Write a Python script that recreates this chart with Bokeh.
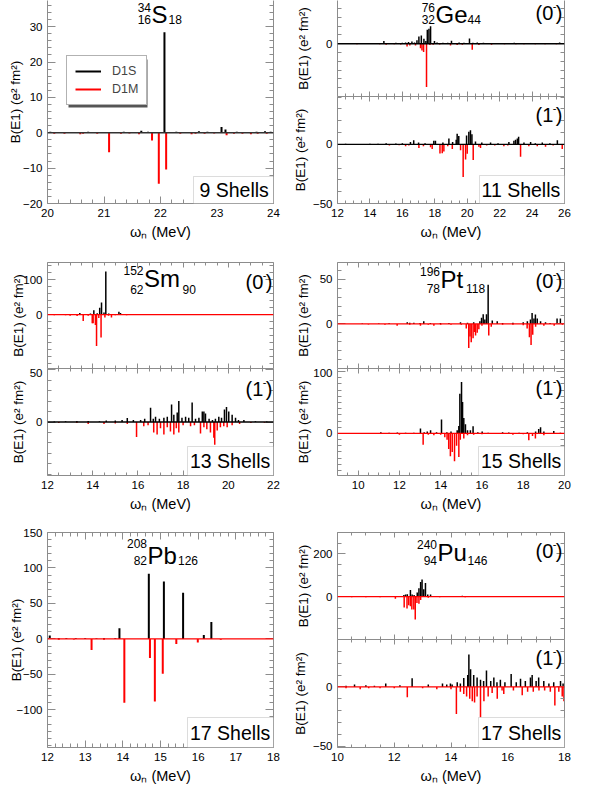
import numpy as np
from bokeh.plotting import figure
from bokeh.models import (ColumnDataSource, LinearAxis, FixedTicker, Range1d, Label,
                          Span, Legend, LegendItem, BoxAnnotation)
from bokeh.layouts import column, row
from bokeh.embed import file_html
from bokeh.resources import INLINE

# ------------------------------------------------------------------ data
# energies (MeV) and B(E1) values (e^2 fm^2); D1M is drawn downwards
S34_D1S_E = [20.05, 20.45, 20.72, 21.18, 21.35, 21.52, 21.66, 21.78, 22.07, 22.28, 22.52,
             22.68, 22.83, 23.08, 23.15, 23.35, 23.52, 23.70, 23.85, 23.95]
S34_D1S_B = [0.3, 0.2, 0.3, 0.2, 0.3, 0.2, 0.6, 0.3, 28.4, 0.3, 0.2,
             0.4, 0.3, 1.6, 0.9, 0.3, 0.2, 0.3, 0.4, 0.3]
S34_D1M_E = [20.12, 20.30, 20.58, 20.63, 20.88, 21.09, 21.30, 21.45, 21.62, 21.85, 21.97,
             22.10, 22.35, 22.55, 22.62, 22.78, 22.95, 23.17, 23.30, 23.45, 23.60, 23.72, 23.88]
S34_D1M_B = [0.3, 0.3, 0.4, 0.3, 0.3, 5.5, 0.3, 0.2, 0.4, 2.2, 14.4,
             10.4, 0.3, 0.4, 0.3, 0.3, 0.2, 0.7, 0.3, 0.3, 0.4, 0.3, 0.3]

GE0_D1S_E = [12.4, 12.9, 13.5, 14.2, 14.86, 15.3, 15.6, 16.0, 16.2, 16.38, 16.59, 16.75, 16.90,
             17.02, 17.17, 17.33, 17.45, 17.54, 17.64, 17.74, 17.98, 18.14, 18.5, 18.8, 19.03,
             19.5, 19.8, 20.14, 20.35, 20.62, 21.0, 21.6, 22.2, 22.9, 23.6, 24.5, 25.0, 25.7]
GE0_D1S_B = [0.5, 0.4, 0.5, 0.8, 3.0, 0.8, 1.2, 1.0, 1.5, 2.0, 2.5, 1.5, 4.0,
             8.3, 9.4, 5.7, 3.0, 16.0, 17.0, 20.0, 3.0, 1.5, 1.0, 1.2, 3.5,
             1.5, 1.0, 6.0, 1.0, 1.5, 1.0, 0.6, 0.8, 1.0, 0.6, 0.8, 0.5, 1.5]
GE0_D1M_E = [12.6, 13.2, 13.9, 14.6, 15.0, 15.5, 15.9, 16.29, 16.46, 16.81, 17.12, 17.21, 17.31,
             17.49, 17.7, 17.9, 18.3, 18.97, 19.38, 19.7, 20.31, 20.72, 21.5, 22.3, 23.0, 23.5,
             24.2, 24.8, 25.5]
GE0_D1M_B = [0.4, 0.5, 0.4, 0.6, 1.0, 0.5, 0.8, 3.0, 2.0, 2.0, 5.0, 7.6, 9.5,
             49.3, 1.5, 1.0, 0.8, 2.0, 1.5, 1.0, 6.8, 1.5, 1.0, 0.7, 0.6, 0.5,
             0.6, 0.6, 0.5]

GE1_D1S_E = [12.5, 13.2, 14.0, 14.5, 15.0, 15.6, 16.0, 16.50, 16.70, 17.0, 17.4, 17.94, 18.04,
             18.5, 18.87, 19.1, 19.32, 19.38, 19.48, 19.96, 20.10, 20.2, 20.29, 20.51, 20.9,
             21.44, 21.9, 22.57, 22.88, 22.98, 23.09, 23.17, 23.5, 23.91, 24.2, 24.63, 25.1, 25.56]
GE1_D1S_B = [0.5, 0.4, 0.5, 0.6, 1.0, 0.8, 1.0, 2.0, 3.6, 1.5, 1.0, 3.0, 3.0,
             1.5, 5.0, 2.0, 4.0, 9.0, 7.0, 7.6, 10.7, 11.9, 8.5, 2.5, 1.5,
             1.5, 1.0, 2.0, 3.0, 4.0, 5.0, 6.5, 1.5, 2.0, 1.0, 1.5, 1.0, 3.5]
GE1_D1M_E = [12.8, 13.7, 14.5, 15.2, 15.8, 16.20, 16.4, 17.02, 17.3, 17.74, 17.84, 18.32, 18.46,
             18.56, 18.8, 19.08, 19.59, 19.75, 19.90, 20.0, 20.37, 20.72, 20.82, 21.2, 21.7,
             22.26, 22.5, 23.29, 23.8, 24.32, 24.83, 25.3, 25.86]
GE1_D1M_B = [0.4, 0.4, 0.5, 1.0, 0.8, 1.5, 1.0, 3.0, 1.5, 2.5, 4.0, 7.7, 7.5,
             6.0, 1.5, 4.0, 5.0, 27.5, 12.7, 8.0, 13.3, 2.0, 3.0, 1.0, 1.0,
             1.5, 1.0, 10.5, 1.5, 1.5, 2.0, 1.0, 4.0]

SM0_D1S_E = [12.3, 12.7, 13.16, 13.43, 13.7, 13.9, 14.05, 14.20, 14.31, 14.39, 14.50, 14.58,
             14.71, 14.86, 15.0, 15.16, 15.23, 15.4, 15.7, 16.2, 17.0, 18.0, 19.0, 20.0, 21.0]
SM0_D1S_B = [1.0, 1.5, 2.0, 5.0, 2.0, 3.0, 12.5, 4.0, 20.0, 35.0, 6.0, 124.0,
             3.0, 2.0, 1.5, 8.6, 5.0, 1.5, 1.0, 0.8, 0.8, 0.6, 0.6, 0.6, 0.5]
SM0_D1M_E = [12.3, 12.8, 13.0, 13.31, 13.58, 13.8, 13.98, 14.02, 14.12, 14.17, 14.27, 14.37,
             14.54, 14.70, 14.83, 15.0, 15.5, 16.0, 17.0, 18.2, 19.5, 20.5, 21.5]
SM0_D1M_B = [2.0, 2.0, 3.0, 4.0, 18.0, 3.0, 25.0, 25.0, 30.0, 90.0, 10.0, 66.0,
             8.0, 3.0, 8.0, 2.0, 2.0, 1.0, 1.0, 0.8, 0.8, 0.6, 0.6]

SM1_D1S_E = [12.3, 12.8, 13.3, 13.8, 14.3, 14.6, 15.0, 15.3, 15.53, 15.8, 16.12, 16.3, 16.56,
             16.68, 16.78, 16.95, 17.15, 17.30, 17.49, 17.59, 17.74, 17.81, 17.95, 18.11, 18.25,
             18.40, 18.55, 18.70, 18.85, 18.92, 18.99, 19.15, 19.30, 19.43, 19.58, 19.70, 19.83,
             19.92, 20.02, 20.17, 20.32, 20.45, 20.69, 21.2, 21.7]
SM1_D1S_B = [0.5, 0.8, 1.0, 1.0, 0.8, 1.5, 1.5, 2.0, 3.8, 2.0, 2.0, 3.0, 13.7,
             3.0, 5.0, 3.0, 4.0, 5.0, 16.6, 7.0, 9.0, 20.0, 4.0, 5.0, 4.0,
             18.5, 3.0, 4.0, 10.0, 10.0, 8.0, 3.0, 2.0, 3.0, 5.0, 4.0, 12.0,
             14.3, 10.0, 7.0, 4.0, 2.0, 2.0, 0.8, 0.5]
SM1_D1M_E = [12.5, 13.3, 13.8, 14.5, 15.0, 15.53, 15.94, 16.26, 16.45, 16.70, 16.85, 17.0,
             17.15, 17.30, 17.44, 17.59, 17.70, 17.81, 18.0, 18.33, 18.5, 18.77, 18.92, 19.05,
             19.21, 19.36, 19.40, 19.51, 19.65, 19.80, 19.95, 20.17, 20.5, 21.0, 21.6]
SM1_D1M_B = [1.0, 1.0, 2.0, 2.0, 1.5, 2.0, 14.3, 4.0, 3.0, 10.0, 12.0, 6.0,
             12.0, 5.0, 9.0, 12.0, 6.0, 10.0, 3.0, 4.0, 3.0, 11.0, 5.0, 7.0,
             10.0, 15.0, 21.6, 8.0, 5.0, 4.0, 5.0, 3.0, 2.0, 1.0, 0.8]

PT0_D1S_E = [10.2, 11.0, 11.5, 12.38, 12.5, 12.70, 13.0, 13.18, 13.5, 13.99, 14.4, 14.96, 15.3,
             15.6, 15.90, 15.98, 16.06, 16.14, 16.22, 16.30, 16.50, 16.74, 17.0, 17.5, 18.0,
             18.2, 18.35, 18.43, 18.52, 18.59, 18.68, 18.84, 19.08, 19.3, 19.64, 19.80]
PT0_D1S_B = [0.5, 0.5, 0.8, 2.0, 1.5, 1.5, 1.0, 3.0, 1.0, 1.0, 1.0, 2.0, 1.5,
             2.0, 3.0, 7.0, 11.0, 5.0, 11.0, 44.0, 4.0, 3.0, 1.0, 1.5, 2.0,
             3.0, 5.0, 12.3, 6.0, 10.5, 6.0, 3.0, 2.0, 1.0, 6.0, 6.0]
PT0_D1M_E = [10.5, 11.3, 11.89, 12.5, 13.02, 13.4, 13.67, 14.0, 14.5, 15.0, 15.24, 15.36, 15.42,
             15.48, 15.57, 15.63, 15.69, 15.77, 15.85, 16.0, 16.33, 16.45, 17.0, 17.5, 18.0,
             18.19, 18.30, 18.38, 18.46, 18.6, 19.0, 19.5, 19.9]
PT0_D1M_B = [0.5, 1.0, 2.0, 1.0, 2.0, 1.0, 2.0, 1.0, 1.0, 1.0, 5.0, 26.9, 14.0,
             20.5, 16.0, 9.0, 13.0, 10.0, 6.0, 2.0, 13.0, 3.0, 1.0, 1.0, 1.5,
             5.0, 15.0, 23.5, 12.0, 3.0, 2.0, 2.0, 1.0]

PT1_D1S_E = [10.0, 10.5, 11.1, 11.5, 11.9, 12.3, 12.7, 13.02, 13.2, 13.35, 13.51, 13.8, 14.04,
             14.3, 14.5, 14.80, 14.88, 14.93, 15.01, 15.06, 15.12, 15.20, 15.30, 15.44, 15.57,
             15.8, 16.01, 16.3, 17.0, 17.3, 17.8, 18.2, 18.6, 18.75, 18.84, 19.0, 19.48, 19.8]
PT1_D1S_B = [0.5, 0.5, 2.0, 1.0, 1.5, 1.0, 1.0, 8.0, 2.0, 3.0, 5.0, 2.0, 22.7,
             2.0, 3.0, 5.0, 12.0, 64.0, 83.0, 51.0, 25.0, 15.0, 5.0, 5.0, 11.8,
             2.0, 3.0, 1.0, 2.0, 1.5, 1.0, 2.0, 3.0, 7.0, 10.0, 3.0, 4.0, 1.0]
PT1_D1M_E = [10.3, 10.8, 11.4, 12.0, 12.6, 13.15, 13.4, 13.67, 14.0, 14.20, 14.31, 14.39, 14.47,
             14.56, 14.67, 14.77, 14.88, 14.95, 15.12, 15.3, 15.6, 16.0, 16.5, 17.0, 17.5,
             18.0, 18.27, 18.45, 18.59, 19.0, 19.5]
PT1_D1M_B = [0.5, 0.5, 1.0, 2.0, 1.0, 18.4, 2.0, 3.0, 2.0, 6.0, 10.0, 25.0, 36.8,
             30.0, 45.0, 20.0, 38.0, 10.0, 8.0, 3.0, 2.0, 1.5, 1.0, 1.0, 2.0,
             1.5, 11.0, 4.0, 8.0, 3.0, 1.0]

PB_D1S_E = [12.06, 12.3, 12.5, 12.75, 13.0, 13.3, 13.5, 13.8, 13.91, 14.69, 15.09, 15.60, 16.15, 16.35]
PB_D1S_B = [5.0, 1.0, 1.0, 0.8, 1.0, 0.5, 0.8, 1.0, 15.0, 92.0, 81.0, 65.0, 5.7, 24.0]
PB_D1M_E = [12.3, 12.7, 13.17, 13.5, 14.04, 14.72, 14.85, 15.06, 15.42, 15.99, 16.6]
PB_D1M_B = [1.0, 0.8, 15.6, 1.0, 90.0, 27.0, 88.0, 49.0, 7.0, 5.0, 1.0]

PU0_D1S_E = [10.3, 10.7, 11.2, 11.5, 11.9, 12.34, 12.40, 12.46, 12.57, 12.63, 12.70, 12.81,
             12.87, 12.93, 12.98, 13.04, 13.10, 13.18, 13.28, 13.5, 14.4, 15.0, 16.0, 17.0]
PU0_D1S_B = [1.0, 3.0, 1.0, 3.0, 2.0, 8.0, 10.0, 12.0, 31.0, 10.0, 8.0, 20.0,
             40.0, 69.0, 80.0, 35.0, 64.0, 10.0, 10.0, 3.0, 5.0, 1.0, 1.0, 1.0]
PU0_D1M_E = [10.5, 11.0, 11.5, 12.04, 12.35, 12.45, 12.51, 12.57, 12.62, 12.69, 12.74, 12.80,
             12.87, 12.93, 13.2, 13.6, 14.5]
PU0_D1M_B = [2.0, 2.0, 3.0, 10.0, 50.0, 55.0, 40.0, 45.0, 60.0, 60.0, 106.0, 30.0,
             33.0, 15.0, 5.0, 2.0, 2.0]

PU1_D1S_E = [10.3, 10.6, 11.0, 11.3, 11.7, 12.2, 12.63, 13.2, 13.7, 13.85, 13.98, 14.04, 14.22,
             14.33, 14.45, 14.59, 14.63, 14.69, 14.80, 14.92, 15.04, 15.15, 15.25, 15.40, 15.51,
             15.62, 15.74, 15.90, 16.12, 16.30, 16.45, 16.62, 16.80, 16.86, 17.00, 17.09, 17.27,
             17.45, 17.62, 17.86, 17.95]
PU1_D1S_B = [1.0, 2.0, 1.5, 1.0, 3.0, 1.5, 7.3, 2.0, 3.0, 2.0, 3.0, 2.0, 4.0,
             3.0, 7.6, 10.0, 27.3, 15.0, 10.0, 8.0, 6.0, 5.0, 13.8, 5.0, 8.0,
             4.0, 6.0, 4.0, 11.0, 4.0, 7.0, 5.0, 8.0, 10.0, 5.0, 8.0, 5.0,
             3.0, 4.0, 5.0, 3.0]
PU1_D1M_E = [10.3, 10.8, 11.1, 11.5, 12.0, 12.46, 13.0, 13.5, 14.0, 14.19, 14.33, 14.45, 14.55,
             14.66, 14.75, 14.83, 14.92, 15.04, 15.16, 15.31, 15.45, 15.63, 15.80, 15.86, 16.2,
             16.51, 16.7, 16.9, 17.1, 17.3, 17.5, 17.66, 17.80, 17.92, 17.98]
PU1_D1M_B = [1.0, 2.0, 1.0, 1.0, 1.0, 8.7, 1.0, 2.0, 2.0, 22.7, 4.0, 6.0, 8.0,
             10.0, 12.0, 13.0, 8.0, 25.5, 12.0, 8.0, 5.0, 10.0, 3.0, 6.0, 3.0,
             7.0, 4.0, 4.0, 3.0, 3.0, 4.0, 15.7, 4.0, 8.0, 12.0]

# tick labels
X_S34 = [20, 21, 22, 23, 24]
X_GE = [12, 14, 16, 18, 20, 22, 24, 26]
X_SM = [12, 14, 16, 18, 20, 22]
X_PT = [10, 12, 14, 16, 18, 20]
X_PB = [12, 13, 14, 15, 16, 17, 18]
X_PU = [10, 12, 14, 16, 18]

# ------------------------------------------------------------------ style
FONT = "Liberation Sans"
AXC = "#8c8c8c"
RED = "#ff0000"
BLK = "#000000"
LEFT_W, RIGHT_W = 287, 316
LEFT_BL, RIGHT_BL = 47, 50
LEFT_FW, RIGHT_FW = 226, 227
YLAB = "B(E1) (e\u00b2 fm\u00b2)"
XLAB = "\u03c9\u2099 (MeV)"
TICK_PX = 11.5
DIGIT_W = 0.556 * TICK_PX
MINUS_W = 0.333 * TICK_PX
FW = {}


def minor_ticks(lo, hi, step, majors):
    start = np.ceil(lo / step - 1e-9) * step
    out = []
    for v in np.arange(start, hi + 1e-9, step):
        if all(abs(v - m) > 1e-6 for m in majors):
            out.append(round(float(v), 4))
    return out


def label_width(ticks):
    return max(len(str(abs(t))) * DIGIT_W + (MINUS_W if t < 0 else 0) for t in ticks)


def add_axis(p, side, rng, majors, step, labeled, tin, tmin):
    ax = LinearAxis(ticker=FixedTicker(ticks=majors,
                                       minor_ticks=minor_ticks(rng[0], rng[1], step, majors)))
    ax.axis_line_color = AXC
    ax.major_tick_line_color = AXC
    ax.minor_tick_line_color = AXC
    ax.major_tick_in = tin
    ax.major_tick_out = 0
    ax.minor_tick_in = tmin
    ax.minor_tick_out = 0
    if labeled:
        ax.major_label_text_font = FONT
        ax.major_label_text_font_size = f"{TICK_PX}px"
        ax.major_label_text_color = "black"
        ax.major_label_standoff = 5
    else:
        ax.major_label_text_font_size = "0px"
        ax.major_label_text_color = None
        ax.major_label_text_alpha = 0
        ax.major_label_standoff = 0
    p.add_layout(ax, side)
    return ax


def make_panel(col, h, bt, bb, xr, yr, xmaj, xstep, ymaj, ystep, top=True, xlabels=False, xtick=(5, 3)):
    if col == "L":
        w, bl, fw, target, corr = LEFT_W, LEFT_BL, LEFT_FW, 34.0, -8
    else:
        w, bl, fw, target, corr = RIGHT_W, RIGHT_BL, RIGHT_FW, 33.0, -2
    p = figure(width=w, height=h, x_range=Range1d(*xr), y_range=Range1d(*yr),
               x_axis_type=None, y_axis_type=None, toolbar_location=None,
               output_backend="svg", min_border_left=bl, min_border_right=w - bl - fw,
               min_border_top=bt, min_border_bottom=bb)
    p.outline_line_color = None
    p.background_fill_color = "white"
    p.border_fill_color = "white"
    ly = add_axis(p, "left", yr, ymaj, ystep, True, 8, 4)
    ly.axis_label = YLAB
    ly.axis_label_text_font = FONT
    ly.axis_label_text_font_size = "13.5px"
    ly.axis_label_text_font_style = "normal"
    ly.axis_label_text_color = "black"
    ly.axis_label_standoff = int(round(target - 5 - 7.5 - label_width(ymaj))) + corr
    add_axis(p, "right", yr, ymaj, ystep, False, 8, 4)
    lx = add_axis(p, "below", xr, xmaj, xstep, xlabels, *xtick)
    if xlabels:
        lx.axis_label = XLAB
        lx.axis_label_text_font = FONT
        lx.axis_label_text_font_size = "14.5px"
        lx.axis_label_text_font_style = "normal"
        lx.axis_label_text_color = "black"
        lx.axis_label_standoff = 4
    if top:
        add_axis(p, "above", xr, xmaj, xstep, False, *xtick)
    FW[p.id] = fw
    return p


def bars(p, E, B, color, sign, lw):
    src = ColumnDataSource(dict(x=E, y=[sign * b for b in B]))
    return p.segment(x0="x", y0=0, x1="x", y1="y", source=src, line_color=color, line_width=lw)


def base(p, color):
    p.add_layout(Span(location=0, dimension="width", line_color=color, line_width=1.3))


def txt(p, FL, FB, x, yc, text, size, align="left"):
    # x, yc: page position (left/right edge, vertical centre of the capitals)
    p.add_layout(Label(x=x - FL, y=FB - yc, x_units="screen", y_units="screen", text=text,
                       text_font=FONT, text_font_size=f"{size}px", text_align=align,
                       text_baseline="middle", text_color="black"))


def nucleus(p, FL, FB, x, yc, sym, mass, z, n, ysup, ysub, xpost):
    txt(p, FL, FB, x, yc, sym, 24)
    txt(p, FL, FB, x - 0.5, ysup, mass, 12, align="right")
    txt(p, FL, FB, x - 0.5, ysub, z, 12, align="right")
    txt(p, FL, FB, xpost, ysub, n, 12)


def shells(p, FL, FB, x0, y0, xt, text):
    fw = FW[p.id]
    p.add_layout(BoxAnnotation(left=x0 - FL, right=fw, bottom=0, top=FB - y0,
                               left_units="screen", right_units="screen",
                               top_units="screen", bottom_units="screen",
                               fill_color="white", fill_alpha=1.0,
                               line_color=AXC, line_width=1))
    txt(p, FL, FB, xt, (y0 + FB) / 2.0, text, 19.5)


def parity(p, FL, FB, xl, yc, digit):
    txt(p, FL, FB, xl, yc, "(" + digit, 20)
    txt(p, FL, FB, xl + 17.3, yc - 7, "-", 11)
    txt(p, FL, FB, xl + 20.3, yc, ")", 20)


# ------------------------------------------------------------------ 34S
pS = make_panel("L", 245, 0, 42, (20, 24), (-20, 37.4), X_S34, 0.2,
                [-20, -10, 0, 10, 20, 30], 2, top=False, xlabels=True, xtick=(7, 4))
base(pS, "#333333")
rS1 = bars(pS, S34_D1S_E, S34_D1S_B, BLK, 1, 2)
rS2 = bars(pS, S34_D1M_E, S34_D1M_B, RED, -1, 2)
nucleus(pS, 47, 203, 151, 13.5, "S", "34", "16", "18", 7, 18.5, 168)
shells(pS, 47, 203, 193, 176, 199, "9 Shells")
pS.add_layout(BoxAnnotation(left=21, right=100, bottom=96, top=144,
                            left_units="screen", right_units="screen",
                            top_units="screen", bottom_units="screen",
                            fill_color="#555555", fill_alpha=1.0, line_color=None))
leg = Legend(items=[LegendItem(label="D1S", renderers=[rS1]),
                    LegendItem(label="D1M", renderers=[rS2])],
             location=(19, 98))
leg.label_text_font = FONT
leg.label_text_font_size = "12.5px"
leg.glyph_width = 26
leg.glyph_height = 14
leg.label_height = 14
leg.label_standoff = 11
leg.padding = 8
leg.spacing = 4
leg.margin = 0
leg.border_line_color = "#666666"
leg.background_fill_color = "white"
leg.background_fill_alpha = 1.0
pS.add_layout(leg)

# ------------------------------------------------------------------ 76Ge
pG1 = make_panel("R", 96, 0, 0, (12, 26), (-60, 49.2), X_GE, 0.5, [0], 10, top=False)
bars(pG1, GE0_D1S_E, GE0_D1S_B, BLK, 1, 1.5)
bars(pG1, GE0_D1M_E, GE0_D1M_B, RED, -1, 1.5)
base(pG1, BLK)
nucleus(pG1, 337, 96, 435, 14, "Ge", "76", "32", "44", 7, 19, 467)
parity(pG1, 337, 96, 535, 12, "0")

pG2 = make_panel("R", 149, 0, 42, (12, 26), (-50, 40.5), X_GE, 0.5, [-50, 0], 10, xlabels=True)
bars(pG2, GE1_D1S_E, GE1_D1S_B, BLK, 1, 1.5)
bars(pG2, GE1_D1M_E, GE1_D1M_B, RED, -1, 1.5)
base(pG2, BLK)
parity(pG2, 337, 203, 535, 114, "1")
shells(pG2, 337, 203, 479, 175, 481, "11 Shells")

# ------------------------------------------------------------------ 152Sm
pM1 = make_panel("L", 123, 17, 0, (12, 22), (-155, 150), X_SM, 0.5, [0, 100], 20)
bars(pM1, SM0_D1S_E, SM0_D1S_B, BLK, 1, 1.5)
bars(pM1, SM0_D1M_E, SM0_D1M_B, RED, -1, 1.5)
base(pM1, RED)
nucleus(pM1, 47, 368, 143.5, 278, "Sm", "152", "62", "90", 270, 289, 182)
parity(pM1, 47, 368, 245, 281, "0")

pM2 = make_panel("L", 147, 0, 40, (12, 22), (-51, 51), X_SM, 0.5, [0, 50], 10, xlabels=True)
bars(pM2, SM1_D1S_E, SM1_D1S_B, BLK, 1, 1.5)
bars(pM2, SM1_D1M_E, SM1_D1M_B, RED, -1, 1.5)
base(pM2, BLK)
parity(pM2, 47, 475, 245, 388, "1")
shells(pM2, 47, 475, 187, 446, 189.5, "13 Shells")

# ------------------------------------------------------------------ 196Pt
pP1 = make_panel("R", 123, 17, 0, (9, 20), (-50, 69), X_PT, 0.5, [0, 50], 10)
bars(pP1, PT0_D1S_E, PT0_D1S_B, BLK, 1, 1.5)
bars(pP1, PT0_D1M_E, PT0_D1M_B, RED, -1, 1.5)
base(pP1, RED)
nucleus(pP1, 337, 368, 440, 279, "Pt", "196", "78", "118", 270.5, 288, 465.5)
parity(pP1, 337, 368, 535, 280.5, "0")

pP2 = make_panel("R", 147, 0, 40, (9, 20), (-68, 105), X_PT, 0.5, [0, 100], 10, xlabels=True)
bars(pP2, PT1_D1S_E, PT1_D1S_B, BLK, 1, 1.5)
bars(pP2, PT1_D1M_E, PT1_D1M_B, RED, -1, 1.5)
base(pP2, RED)
parity(pP2, 337, 475, 535, 387.5, "1")
shells(pP2, 337, 475, 478, 446, 480.5, "15 Shells")

# ------------------------------------------------------------------ 208Pb
pB = make_panel("L", 283, 17, 51, (12, 18), (-153, 150), X_PB, 0.2,
                [-100, -50, 0, 50, 100, 150], 10, xlabels=True, xtick=(7, 4))
bars(pB, PB_D1S_E, PB_D1S_B, BLK, 1, 2)
bars(pB, PB_D1M_E, PB_D1M_B, RED, -1, 2)
base(pB, RED)
nucleus(pB, 47, 747, 147, 555, "Pb", "208", "82", "126", 542.5, 559.5, 177.5)
shells(pB, 47, 747, 187, 717, 189.5, "17 Shells")

# ------------------------------------------------------------------ 240Pu
pU1 = make_panel("R", 124, 17, 0, (10, 18), (-200, 300), X_PU, 0.5, [0, 200], 50)
bars(pU1, PU0_D1S_E, PU0_D1S_B, BLK, 1, 1.5)
bars(pU1, PU0_D1M_E, PU0_D1M_B, RED, -1, 1.5)
base(pU1, RED)
nucleus(pU1, 337, 639, 437, 552, "Pu", "240", "94", "146", 544, 559.5, 467)
parity(pU1, 337, 639, 535, 550.5, "0")

pU2 = make_panel("R", 159, 0, 51, (10, 18), (-51, 40), X_PU, 0.5, [-50, 0], 10, xlabels=True)
bars(pU2, PU1_D1S_E, PU1_D1S_B, BLK, 1, 1.5)
bars(pU2, PU1_D1M_E, PU1_D1M_B, RED, -1, 1.5)
base(pU2, RED)
parity(pU2, 337, 747, 535, 657.5, "1")
shells(pU2, 337, 747, 478, 717, 480.5, "17 Shells")

p = row(column(pS, pM1, pM2, pB), column(pG1, pG2, pP1, pP2, pU1, pU2))

open("out.html", "w").write(file_html(p, INLINE))
